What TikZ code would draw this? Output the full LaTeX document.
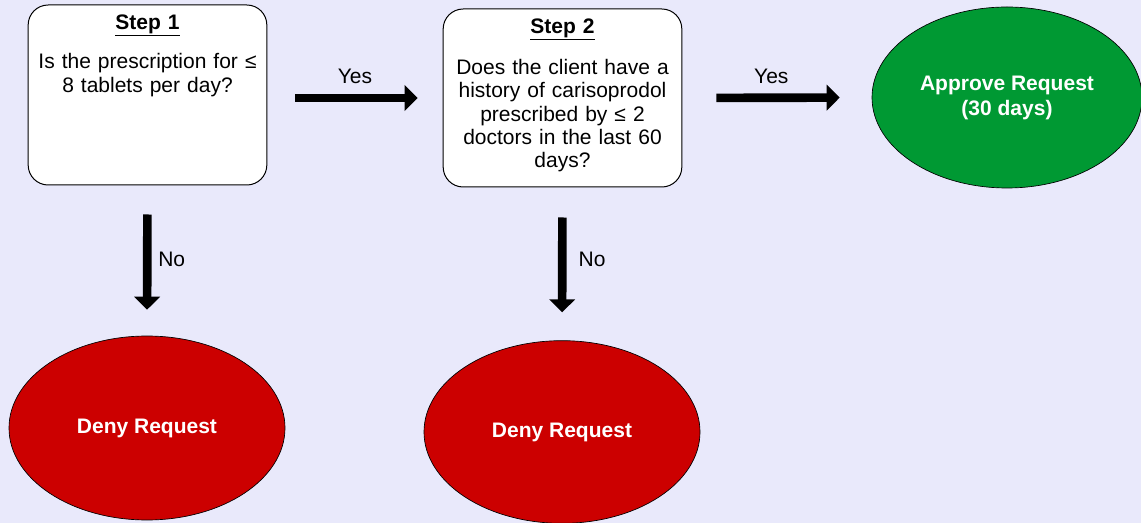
\documentclass[tikz,border=0pt]{standalone}
\usepackage{fontspec}
\setmainfont{Liberation Sans}
\usetikzlibrary{arrows.meta,positioning,shapes.geometric}
\definecolor{bgblue}{RGB}{233,233,251}
\definecolor{okgreen}{RGB}{0,153,51}
\definecolor{nored}{RGB}{204,0,0}
\newcommand{\fsz}[1]{\fontsize{15.75pt}{#1}\selectfont}

\begin{document}
\begin{tikzpicture}[x=0.75pt, y=-0.75pt,
	stepbox/.style={draw, line width=0.75pt, fill=white, rounded corners=15pt, minimum width=179pt, inner sep=0pt},
	steptext/.style={text width=175pt, align=center, inner sep=0pt, anchor=north},
	outcome/.style={ellipse, draw, line width=0.5pt, inner sep=0pt, text=white, align=center, font=\fsz{18.75pt}\bfseries},
	bigarrow/.style={line width=6.5pt, -{Triangle[length=9.75pt, width=19pt]}},
	lbl/.style={inner sep=0pt, font=\fsz{19pt}}]
		%%%%% START %%%%%
		
		\useasboundingbox[fill=bgblue] (0, 0) rectangle (1141, 523);
		
		% the two questions
		\node[stepbox, minimum height=135pt] (step1) at (147.5, 95) {};
		\node[stepbox, minimum height=133.5pt] (step2) at (562.5, 98) {};
		\node[steptext, font=\fsz{17.5pt}, below=7.5pt of step1.north] (q1) {\underline{\textbf{Step 1}}\\[12pt] Is the prescription for ≤\\ 8 tablets per day?};
		\node[steptext, font=\fsz{17.4pt}, below=7.5pt of step2.north] (q2) {\underline{\textbf{Step 2}}\\[13.5pt] Does the client have a\\ history of carisoprodol\\ prescribed by ≤ 2\\ doctors in the last 60\\ days?};
		
		% outcomes
		\node[outcome, fill=okgreen, minimum width=202.5pt, minimum height=135.75pt] (approve) at (1007, 97.5) {Approve Request\\(30 days)};
		\node[outcome, fill=nored, minimum width=207pt, minimum height=138pt] (deny1) at (147, 428) {Deny Request};
		\node[outcome, fill=nored, minimum width=207pt, minimum height=137pt] (deny2) at (562, 432) {Deny Request};
		
		% arrows
		\draw[bigarrow, shorten <=21pt, shorten >=18.75pt] (step1.east |- step2.west) -- node[lbl, above=7.5pt] {Yes} (step2.west);
		\draw[bigarrow, shorten <=25.5pt, shorten >=24pt] (step2.east) -- node[lbl, above=7.5pt, pos=0.47] {Yes} (approve.west);
		\draw[bigarrow, shorten <=21.75pt, shorten >=19.5pt] (step1.south) -- node[lbl, right=5pt, pos=0.49] {No} (deny1.north);
		\draw[bigarrow, shorten <=22.5pt, shorten >=21pt] (step2.south) -- node[lbl, right=9pt, pos=0.47] {No} (deny2.north);
		
		%%%%% END %%%%%
	\end{tikzpicture}
\end{document}
